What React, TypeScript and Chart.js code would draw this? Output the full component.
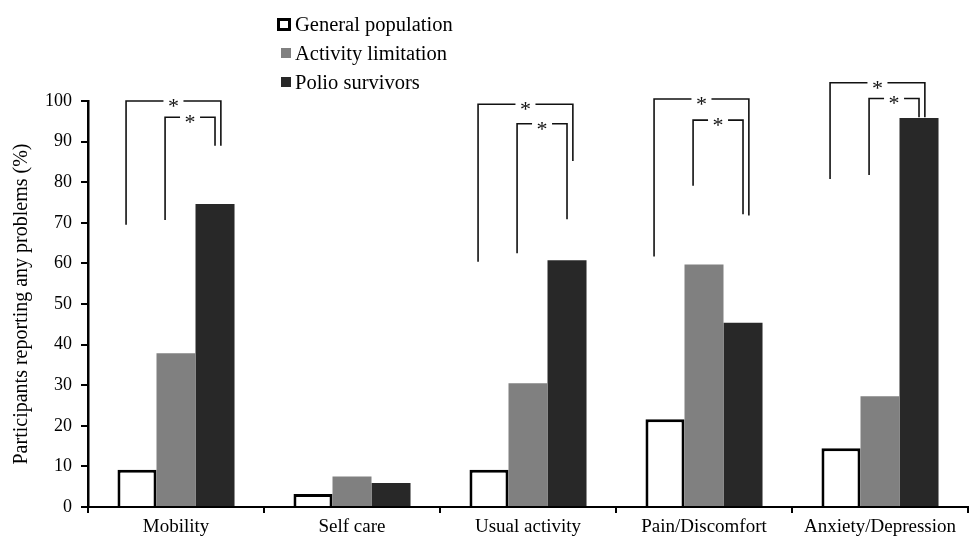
import React, { useEffect, useRef } from "react";
import { Chart, registerables } from "chart.js";

Chart.register(...registerables);

const categories = ["Mobility", "Self care", "Usual activity", "Pain/Discomfort", "Anxiety/Depression"];
const seriesNames = ["General population", "Activity limitation", "Polio survivors"];
const generalPopulation = [9.2, 3.2, 9.2, 21.6, 14.5];
const activityLimitation = [37.9, 7.5, 30.5, 59.7, 27.3];
const polioSurvivors = [74.6, 5.9, 60.8, 45.4, 95.8];
const yTicks = [0, 10, 20, 30, 40, 50, 60, 70, 80, 90, 100];
const yTitle = "Participants reporting any problems (%)";

// significance brackets: category index, comparison series (vs polio survivors), values in %
const bracketCategory = [0, 0, 2, 2, 3, 3, 4, 4];
const bracketFrom = [0, 1, 0, 1, 0, 1, 0, 1];
const bracketTop = [100, 96, 99.2, 94.4, 100.5, 95.3, 104.5, 100.6];
const bracketLeftEnd = [69.5, 70.7, 60.4, 62.5, 61.7, 79.1, 80.8, 81.8];
const bracketRightEnd = [89, 89, 85.2, 70.9, 71.8, 72.1, 96, 96];
const bracketLabel = ["*", "*", "*", "*", "*", "*", "*", "*"];

const FONT = '"Liberation Serif", "Times New Roman", serif';
const COLORS = ["#ffffff", "#808080", "#282828"];

const annotationPlugin = {
  id: "annotations",
  afterDraw(chart: any) {
    const ctx = chart.ctx;
    const y = chart.scales.y;
    ctx.save();
    // brackets
    ctx.strokeStyle = "#111";
    ctx.lineWidth = 1.6;
    ctx.fillStyle = "#111";
    ctx.font = `22px ${FONT}`;
    ctx.textAlign = "center";
    ctx.textBaseline = "middle";
    for (let i = 0; i < bracketCategory.length; i++) {
      const c = bracketCategory[i];
      const fromBar = chart.getDatasetMeta(bracketFrom[i]).data[c];
      const toBar = chart.getDatasetMeta(2).data[c];
      const bw = fromBar.width;
      const xl = fromBar.x - 0.28 * bw;
      const xr = toBar.x + (bracketFrom[i] === 0 ? 0.15 * bw : 0);
      const yt = y.getPixelForValue(bracketTop[i]);
      const yl = y.getPixelForValue(bracketLeftEnd[i]);
      const yr = y.getPixelForValue(bracketRightEnd[i]);
      const xm = (xl + xr) / 2;
      const gap = 10;
      ctx.beginPath();
      ctx.moveTo(xl, yl);
      ctx.lineTo(xl, yt);
      ctx.lineTo(xm - gap, yt);
      ctx.moveTo(xm + gap, yt);
      ctx.lineTo(xr, yt);
      ctx.lineTo(xr, yr);
      ctx.stroke();
      ctx.fillText(bracketLabel[i], xm, yt + 6);
    }
    // legend
    ctx.textAlign = "left";
    ctx.textBaseline = "alphabetic";
    ctx.font = `20.5px ${FONT}`;
    for (let i = 0; i < seriesNames.length; i++) {
      const base = 31 + i * 29;
      if (i === 0) {
        ctx.fillStyle = "#fff";
        ctx.fillRect(277, 18, 14, 13);
        ctx.strokeStyle = "#000";
        ctx.lineWidth = 3;
        ctx.strokeRect(278.5, 19.5, 11, 10);
      } else {
        ctx.fillStyle = COLORS[i];
        ctx.fillRect(281, base - 12, 10, 10);
      }
      ctx.fillStyle = "#000";
      ctx.fillText(seriesNames[i], 295, base);
    }
    ctx.restore();
  },
};

export default function App() {
  const ref = useRef<HTMLCanvasElement>(null);
  useEffect(() => {
    if (!ref.current) return;
    const values = [generalPopulation, activityLimitation, polioSurvivors];
    const chart = new Chart(ref.current, {
      type: "bar",
      data: {
        labels: categories,
        datasets: seriesNames.map((name, i) => ({
          label: name,
          data: values[i],
          backgroundColor: COLORS[i],
          borderColor: i === 0 ? "#000" : COLORS[i],
          borderWidth: i === 0 ? 3 : 0,
          borderSkipped: "start",
          categoryPercentage: 0.665,
          barPercentage: 1.0,
        })),
      },
      options: {
        responsive: false,
        animation: false,
        devicePixelRatio: 1,
        layout: { padding: { top: 101, right: 6, left: 0, bottom: 0 } },
        plugins: { legend: { display: false }, tooltip: { enabled: false } },
        scales: {
          x: {
            grid: {
              display: true,
              drawOnChartArea: false,
              drawTicks: true,
              tickLength: 6,
              color: "#000",
              lineWidth: 2,
              offset: true,
            },
            border: { display: true, color: "#000", width: 2 },
            ticks: { color: "#000", font: { family: FONT, size: 19 }, padding: 3 },
            afterFit: (s: any) => {
              s.height = 29;
            },
          },
          y: {
            min: 0,
            max: 100,
            afterBuildTicks: (s: any) => {
              s.ticks = yTicks.map((v) => ({ value: v }));
            },
            grid: {
              display: true,
              drawOnChartArea: false,
              drawTicks: true,
              tickLength: 7,
              color: "#000",
              lineWidth: 2,
            },
            border: { display: true, color: "#000", width: 2.5 },
            ticks: { color: "#000", font: { family: FONT, size: 18 }, padding: 9 },
            title: {
              display: true,
              text: yTitle,
              color: "#000",
              font: { family: FONT, size: 20 },
              padding: { top: 10, bottom: 0 },
            },
            afterFit: (s: any) => {
              s.width = 88;
            },
          },
        },
      },
      plugins: [annotationPlugin],
    });
    return () => chart.destroy();
  }, []);
  return (
    <div style={{ position: "fixed", left: 0, top: 0, width: 974, height: 536, background: "#fff" }}>
      <canvas ref={ref} width={974} height={536} style={{ width: 974, height: 536 }} />
    </div>
  );
}
